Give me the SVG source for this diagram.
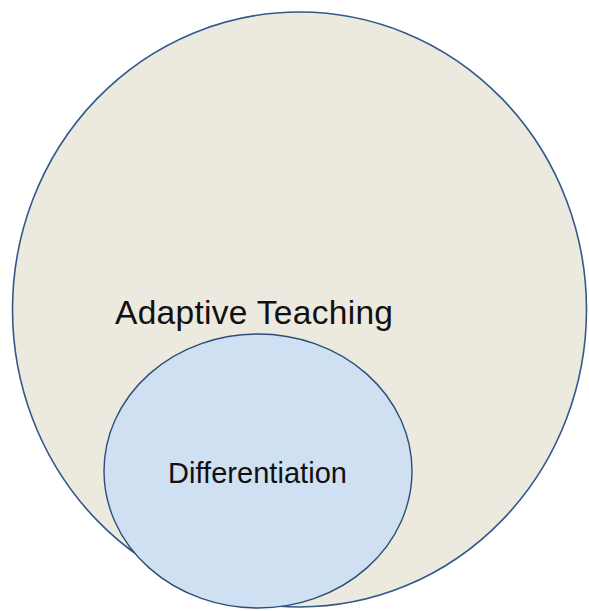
<svg xmlns="http://www.w3.org/2000/svg" width="589" height="611" viewBox="0 0 589 611">
<style>
.lbl{font-family:"Liberation Sans",Arial,sans-serif;fill:#111;}
.outer{fill:#ECE9DF;stroke:#33598C;stroke-width:1.6;}
.inner{fill:#CFE0F2;stroke:#2D4D78;stroke-width:1.4;}
</style>
<rect width="589" height="611" fill="#fff"/>
<g id="adaptive-teaching">
<ellipse class="outer" cx="299.5" cy="309.5" rx="287" ry="297.5"/>
<text class="lbl" x="115" y="324" font-size="33.5" textLength="278" lengthAdjust="spacing">Adaptive Teaching</text>
</g>
<g id="differentiation">
<ellipse class="inner" cx="258" cy="471" rx="154" ry="137"/>
<text class="lbl" x="168" y="483" font-size="29" textLength="179" lengthAdjust="spacing">Differentiation</text>
</g>
<g id="connectors"/>
</svg>
